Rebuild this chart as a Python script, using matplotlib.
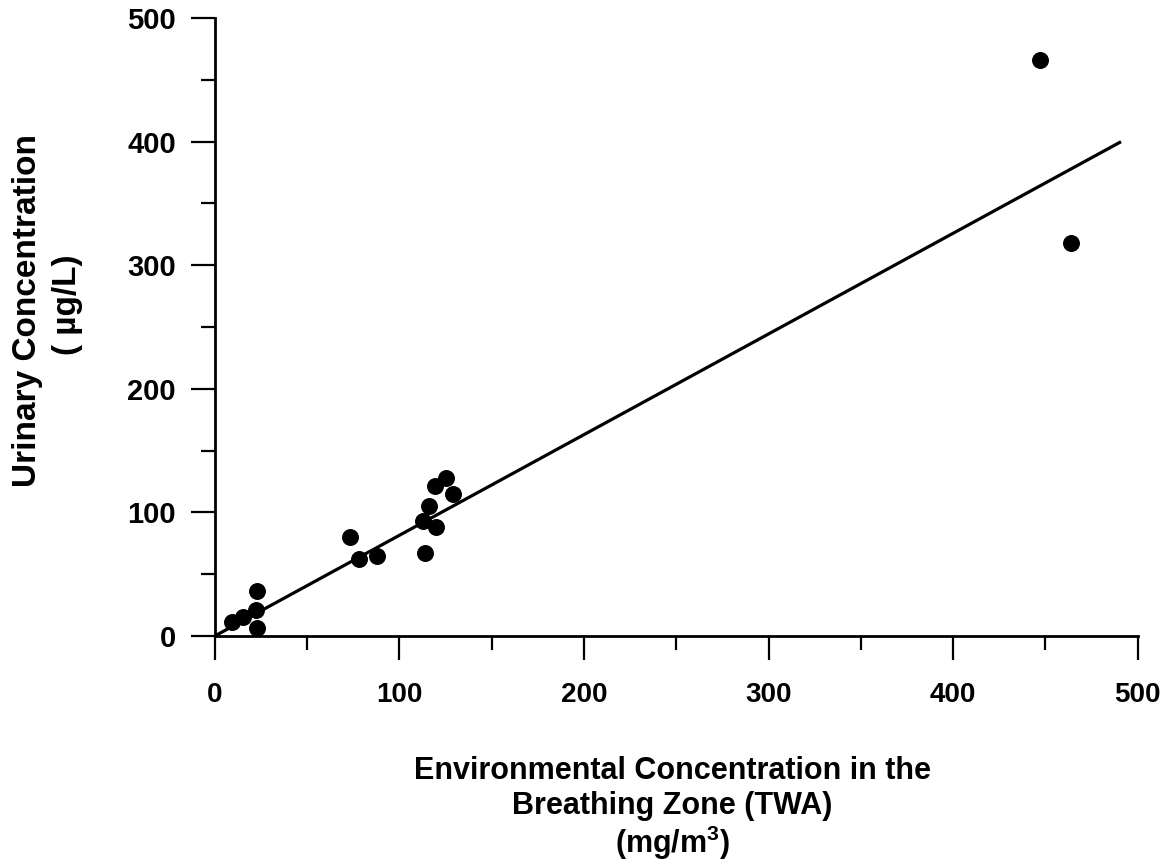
import matplotlib
matplotlib.use("Agg")
import matplotlib.pyplot as plt

plt.rcParams['font.family'] = ['Liberation Sans', 'DejaVu Sans']
plt.rcParams['font.weight'] = 'bold'
plt.rcParams['mathtext.fontset'] = 'custom'
plt.rcParams['mathtext.bf'] = 'Liberation Sans:bold'

# breathing zone concentration (mg/m3) vs urinary concentration (ug/L)
env_conc = [9, 15, 22, 23, 23, 73, 78, 88, 114, 113, 116, 120, 119, 125, 129, 447, 464]
urine_conc = [11, 15, 21, 36, 6, 80, 62, 65, 67, 93, 105, 88, 121, 128, 115, 466, 318]

# regression line end points
fit_x = [0, 491]
fit_y = [0, 400]

x_ticks = [0, 100, 200, 300, 400, 500]
y_ticks = [0, 100, 200, 300, 400, 500]

fig = plt.figure(figsize=(11.65, 8.64), dpi=100)
ax = fig.add_axes([0.1845, 0.264, 0.792, 0.715])

ax.plot(fit_x, fit_y, color='black', lw=2.3, solid_capstyle='butt')
ax.scatter(env_conc, urine_conc, s=125, color='black', zorder=3)

ax.set_xlim(0, 500)
ax.set_ylim(0, 500)
ax.spines['top'].set_visible(False)
ax.spines['right'].set_visible(False)
ax.spines['left'].set_linewidth(2)
ax.spines['bottom'].set_linewidth(2)

ax.set_xticks(range(0, 501, 50), minor=True)
ax.set_yticks(range(0, 501, 50), minor=True)
ax.set_xticks(x_ticks)
ax.set_yticks(y_ticks)
ax.tick_params(which='major', direction='out', length=17, width=1.6)
ax.tick_params(which='minor', direction='out', length=10, width=1.6)
ax.tick_params(axis='x', labelsize=20, pad=16)
ax.tick_params(axis='y', labelsize=21, pad=11)

fig.text(0.024, 0.641, 'Urinary Concentration', rotation=90, ha='center', va='center',
         fontsize=24, fontweight='bold')
fig.text(0.058, 0.647, '( µg/L)', rotation=90, ha='center', va='center',
         fontsize=24, fontweight='bold')

fig.text(0.577, 0.108, 'Environmental Concentration in the', ha='center', va='center',
         fontsize=22, fontweight='bold')
fig.text(0.577, 0.067, 'Breathing Zone (TWA)', ha='center', va='center',
         fontsize=22, fontweight='bold')
fig.text(0.577, 0.024, '(mg/m$^{\\mathbf{3}}$)', ha='center', va='center',
         fontsize=22, fontweight='bold')

fig.savefig('out.png', dpi=100)
